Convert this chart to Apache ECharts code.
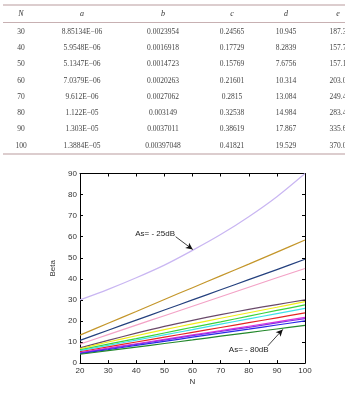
<!DOCTYPE html>
<html lang="en">
<head>
<meta charset="UTF-8">
<title>Beta vs N</title>
<style>
    html, body { margin: 0; padding: 0; background: #fff; }
    #main { width: 345px; height: 393px; }
</style>
</head>
<body>
<div id="main"></div>
<script src="https://cdn.jsdelivr.net/npm/echarts@6/dist/echarts.min.js"></script>
<script>
// ---- table data ----
var tableHead = ['N', 'a', 'b', 'c', 'd', 'e'];
var colN = ['30', '40', '50', '60', '70', '80', '90', '100'];
var colA = ['8.85134E\u221206', '5.9548E\u221206', '5.1347E\u221206', '7.0379E\u221206', '9.612E\u221206', '1.122E\u221205', '1.303E\u221205', '1.3884E\u221205'];
var colB = ['0.0023954', '0.0016918', '0.0014723', '0.0020263', '0.0027062', '0.003149', '0.0037011', '0.00397048'];
var colC = ['0.24565', '0.17729', '0.15769', '0.21601', '0.2815', '0.32538', '0.38619', '0.41821'];
var colD = ['10.945', '8.2839', '7.6756', '10.314', '13.084', '14.984', '17.867', '19.529'];
var colE = ['187.3', '157.7', '157.1', '203.0', '249.4', '283.4', '335.6', '370.0'];

// ---- chart data ----
var nValues = [20, 30, 40, 50, 60, 70, 80, 90, 100];
var beta25 = [30.0, 35.0, 40.5, 46.5, 53.5, 61.0, 69.5, 79.0, 90.0];
var betaGold = [13.3, 18.9, 24.5, 30.2, 35.8, 41.4, 47.0, 52.7, 58.4];
var betaNavy = [10.8, 15.6, 20.4, 25.2, 30.0, 34.8, 39.6, 44.4, 49.3];
var betaPink = [9.0, 13.5, 18.0, 22.5, 27.0, 31.5, 36.0, 40.5, 44.9];
var betaPurple = [7.2, 10.8, 14.2, 17.4, 20.3, 23.0, 25.5, 27.8, 30.0];
var betaYellow = [6.8, 10.0, 13.0, 15.9, 18.6, 21.3, 23.9, 26.5, 29.2];
var betaGreen = [6.3, 9.0, 11.6, 14.3, 17.0, 19.6, 22.3, 25.0, 27.6];
var betaCyan = [5.9, 8.4, 10.9, 13.4, 15.9, 18.5, 21.0, 23.5, 26.0];
var betaRed = [5.4, 7.7, 10.0, 12.3, 14.6, 16.9, 19.2, 21.5, 23.8];
var betaMagenta = [5.0, 7.1, 9.2, 11.3, 13.4, 15.4, 17.5, 19.6, 21.7];
var betaViolet = [4.8, 6.8, 8.9, 10.9, 13.0, 15.0, 17.0, 19.1, 21.1];
var betaBlue = [4.5, 6.4, 8.4, 10.3, 12.3, 14.2, 16.1, 18.1, 20.0];
var beta80 = [4.2, 5.9, 7.6, 9.3, 11.0, 12.8, 14.5, 16.2, 17.9];

var curves = [
    { data: beta25, color: '#c9b6f2' },
    { data: betaGold, color: '#c4962a' },
    { data: betaNavy, color: '#24407e' },
    { data: betaPink, color: '#f3a2c6' },
    { data: betaPurple, color: '#6a4a6a' },
    { data: betaYellow, color: '#f2ee1a' },
    { data: betaGreen, color: '#3cd23c' },
    { data: betaCyan, color: '#3fe0ea' },
    { data: betaRed, color: '#e52424' },
    { data: betaMagenta, color: '#e032dc' },
    { data: betaViolet, color: '#8a2ee6' },
    { data: betaBlue, color: '#2a2ae6' },
    { data: beta80, color: '#23882c' }
];

// annotation: text position and arrow tail/head in data coords
var note25 = { text: 'As= - 25dB', at: [46.7, 61.6], from: [54.0, 60.0], to: [60.1, 53.9] };
var note80 = { text: 'As= - 80dB', at: [80.0, 6.2], from: [86.8, 8.2], to: [92.1, 16.0] };

var myChart = echarts.init(document.getElementById('main'));

// table drawn as graphic elements
var colX = [21, 82, 163, 232, 286, 338];
var rowY0 = 31.7, rowStep = 16.3;
var cols = [colN, colA, colB, colC, colD, colE];
var graphics = [];
var ruleColor = '#b99c9e';
graphics.push({ type: 'line', shape: { x1: 3, y1: 5, x2: 345, y2: 5 }, style: { stroke: ruleColor, lineWidth: 1.2 } });
graphics.push({ type: 'line', shape: { x1: 3, y1: 22.5, x2: 345, y2: 22.5 }, style: { stroke: ruleColor, lineWidth: 0.8 } });
graphics.push({ type: 'line', shape: { x1: 3, y1: 154, x2: 345, y2: 154 }, style: { stroke: ruleColor, lineWidth: 1.2 } });
for (var c = 0; c < tableHead.length; c++) {
    graphics.push({
        type: 'text', x: colX[c], y: 14,
        style: { text: tableHead[c], fill: '#333', font: 'italic 8px "Liberation Serif"', align: 'center', verticalAlign: 'middle' }
    });
    for (var r = 0; r < cols[c].length; r++) {
        graphics.push({
            type: 'text', x: colX[c], y: rowY0 + r * rowStep,
            style: { text: cols[c][r], fill: '#444', font: '7.5px "Liberation Serif"', align: 'center', verticalAlign: 'middle' }
        });
    }
}

function noteMarks(note) {
    return {
        markLine: {
            silent: true,
            symbol: ['none', 'arrow'],
            symbolSize: [5, 7],
            lineStyle: { color: '#111', width: 0.8, type: 'solid' },
            label: { show: false },
            data: [[{ coord: note.from }, { coord: note.to }]]
        },
        markPoint: {
            silent: true,
            symbol: 'circle',
            symbolSize: 0,
            label: {
                show: true, position: 'inside', color: '#222',
                fontFamily: 'Liberation Sans', fontSize: 8,
                formatter: function (p) { return p.name; }
            },
            data: [{ name: note.text, coord: note.at }]
        }
    };
}

var series = curves.map(function (cv, i) {
    var s = {
        type: 'line',
        smooth: 0.3,
        symbol: 'none',
        silent: true,
        lineStyle: { color: cv.color, width: 1.2 },
        itemStyle: { color: cv.color },
        data: nValues.map(function (n, k) { return [n, cv.data[k]]; })
    };
    if (i === 0) Object.assign(s, noteMarks(note25));
    if (i === curves.length - 1) Object.assign(s, noteMarks(note80));
    return s;
});

var axisFont = { fontFamily: 'Liberation Sans', fontSize: 8, color: '#333' };
var lineStyleBlack = { color: '#000', width: 1 };

var option = {
    animation: false,
    grid: { left: 80, right: 40, top: 173.5, bottom: 19 },
    graphic: graphics,
    xAxis: [
        {
            type: 'value', min: 20, max: 100, interval: 10, position: 'bottom',
            name: 'N', nameLocation: 'middle', nameGap: 15,
            nameTextStyle: axisFont,
            axisLine: { onZero: false, lineStyle: lineStyleBlack },
            axisTick: { inside: true, length: 3, lineStyle: lineStyleBlack },
            axisLabel: Object.assign({ margin: 4 }, axisFont),
            splitLine: { show: false }
        },
        {
            type: 'value', min: 20, max: 100, interval: 10, position: 'top',
            axisLine: { onZero: false, lineStyle: lineStyleBlack },
            axisTick: { inside: true, length: 3, lineStyle: lineStyleBlack },
            axisLabel: { show: false },
            splitLine: { show: false }
        }
    ],
    yAxis: [
        {
            type: 'value', min: 0, max: 90, interval: 10, position: 'left',
            name: 'Beta', nameLocation: 'middle', nameGap: 18, nameRotate: 90,
            nameTextStyle: axisFont,
            axisLine: { show: true, onZero: false, lineStyle: lineStyleBlack },
            axisTick: { show: true, inside: true, length: 3, lineStyle: lineStyleBlack },
            axisLabel: Object.assign({ margin: 3 }, axisFont),
            splitLine: { show: false }
        },
        {
            type: 'value', min: 0, max: 90, interval: 10, position: 'right',
            axisLine: { show: true, onZero: false, lineStyle: lineStyleBlack },
            axisTick: { show: true, inside: true, length: 3, lineStyle: lineStyleBlack },
            axisLabel: { show: false },
            splitLine: { show: false }
        }
    ],
    series: series
};

myChart.setOption(option);
</script>
</body>
</html>
